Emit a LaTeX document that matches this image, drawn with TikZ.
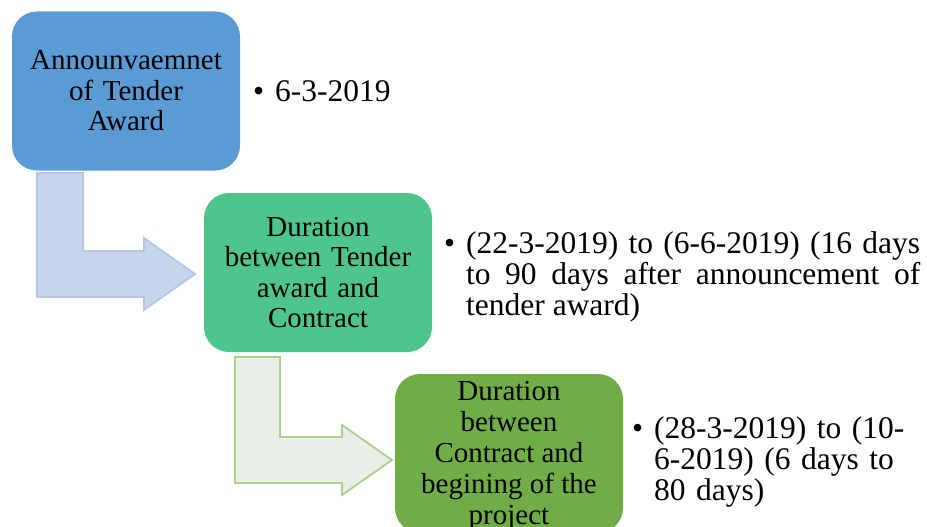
\documentclass[tikz,border=0pt]{standalone}
\usepackage{fontspec}
\setmainfont{Liberation Serif}
\definecolor{stepblue}{RGB}{91,155,213}
\definecolor{stepteal}{RGB}{78,197,141}
\definecolor{stepgreen}{RGB}{112,173,71}
\definecolor{arrowblue}{RGB}{197,213,235}
\definecolor{arrowblueline}{RGB}{180,199,231}
\definecolor{arrowgreen}{RGB}{233,239,230}
\definecolor{arrowgreenline}{RGB}{169,209,142}
\tikzset{
  stagebox/.style={rounded corners=25pt, minimum width=228pt, minimum height=159pt,
    inner sep=0pt, text width=214pt, align=center,
    font=\fontsize{29}{30.5}\selectfont},
  notetext/.style={anchor=west, inner sep=0pt, font=\fontsize{31.5}{31}\selectfont},
  bentarrow/.style={line width=1.8pt, line join=miter}
}
\newcommand{\bulletmark}{\llap{\textbullet\hspace{11pt}}}
\begin{document}
\begin{tikzpicture}[x=1pt,y=-1pt]
\useasboundingbox (0,0) rectangle (927,527);
\clip (0,0) rectangle (927,527);

% stages
\node[stagebox, fill=stepblue]  (s1) at (126,91)    {Announvaemnet\\of Tender\\Award};
\node[stagebox, fill=stepteal]  (s2) at (318,272.5) {Duration\\between Tender\\award and\\Contract};
\node[stagebox, fill=stepgreen, font=\fontsize{29}{31.2}\selectfont] (s3) at (509,453.5) {};
\node[align=center, inner sep=0pt, font=\fontsize{29}{31.2}\selectfont] (s3text) at (509,456)
  {Duration\\between\\Contract and\\begining of the\\project};

% bent arrows leading from one stage into the next
\draw[bentarrow, draw=arrowblueline, fill=arrowblue]
  (37,173) -- (83,173) -- (83,251) -- (144,251) -- (144,238) -- (195,274)
  -- (144,310) -- (144,297) -- (37,297) -- cycle;
\draw[bentarrow, draw=arrowgreenline, fill=arrowgreen]
  (235,357) -- (280,357) -- (280,437) -- (342,437) -- (342,425) -- (392,460)
  -- (342,495) -- (342,483) -- (235,483) -- cycle;

% dates beside each stage
\node[notetext] (d1) at (275,91) {\bulletmark 6-3-2019};
\node[notetext, text width=454pt, align=justify] (d2) at (466,277)
  {\bulletmark(22-3-2019) to (6-6-2019) (16 days\linebreak to 90 days after announcement of\linebreak tender award)};
\node[notetext, text width=270pt, align=left] (d3) at (654,462)
  {\bulletmark(28-3-2019) to (10-\\6-2019) (6 days to\\80 days)};
\end{tikzpicture}
\end{document}
